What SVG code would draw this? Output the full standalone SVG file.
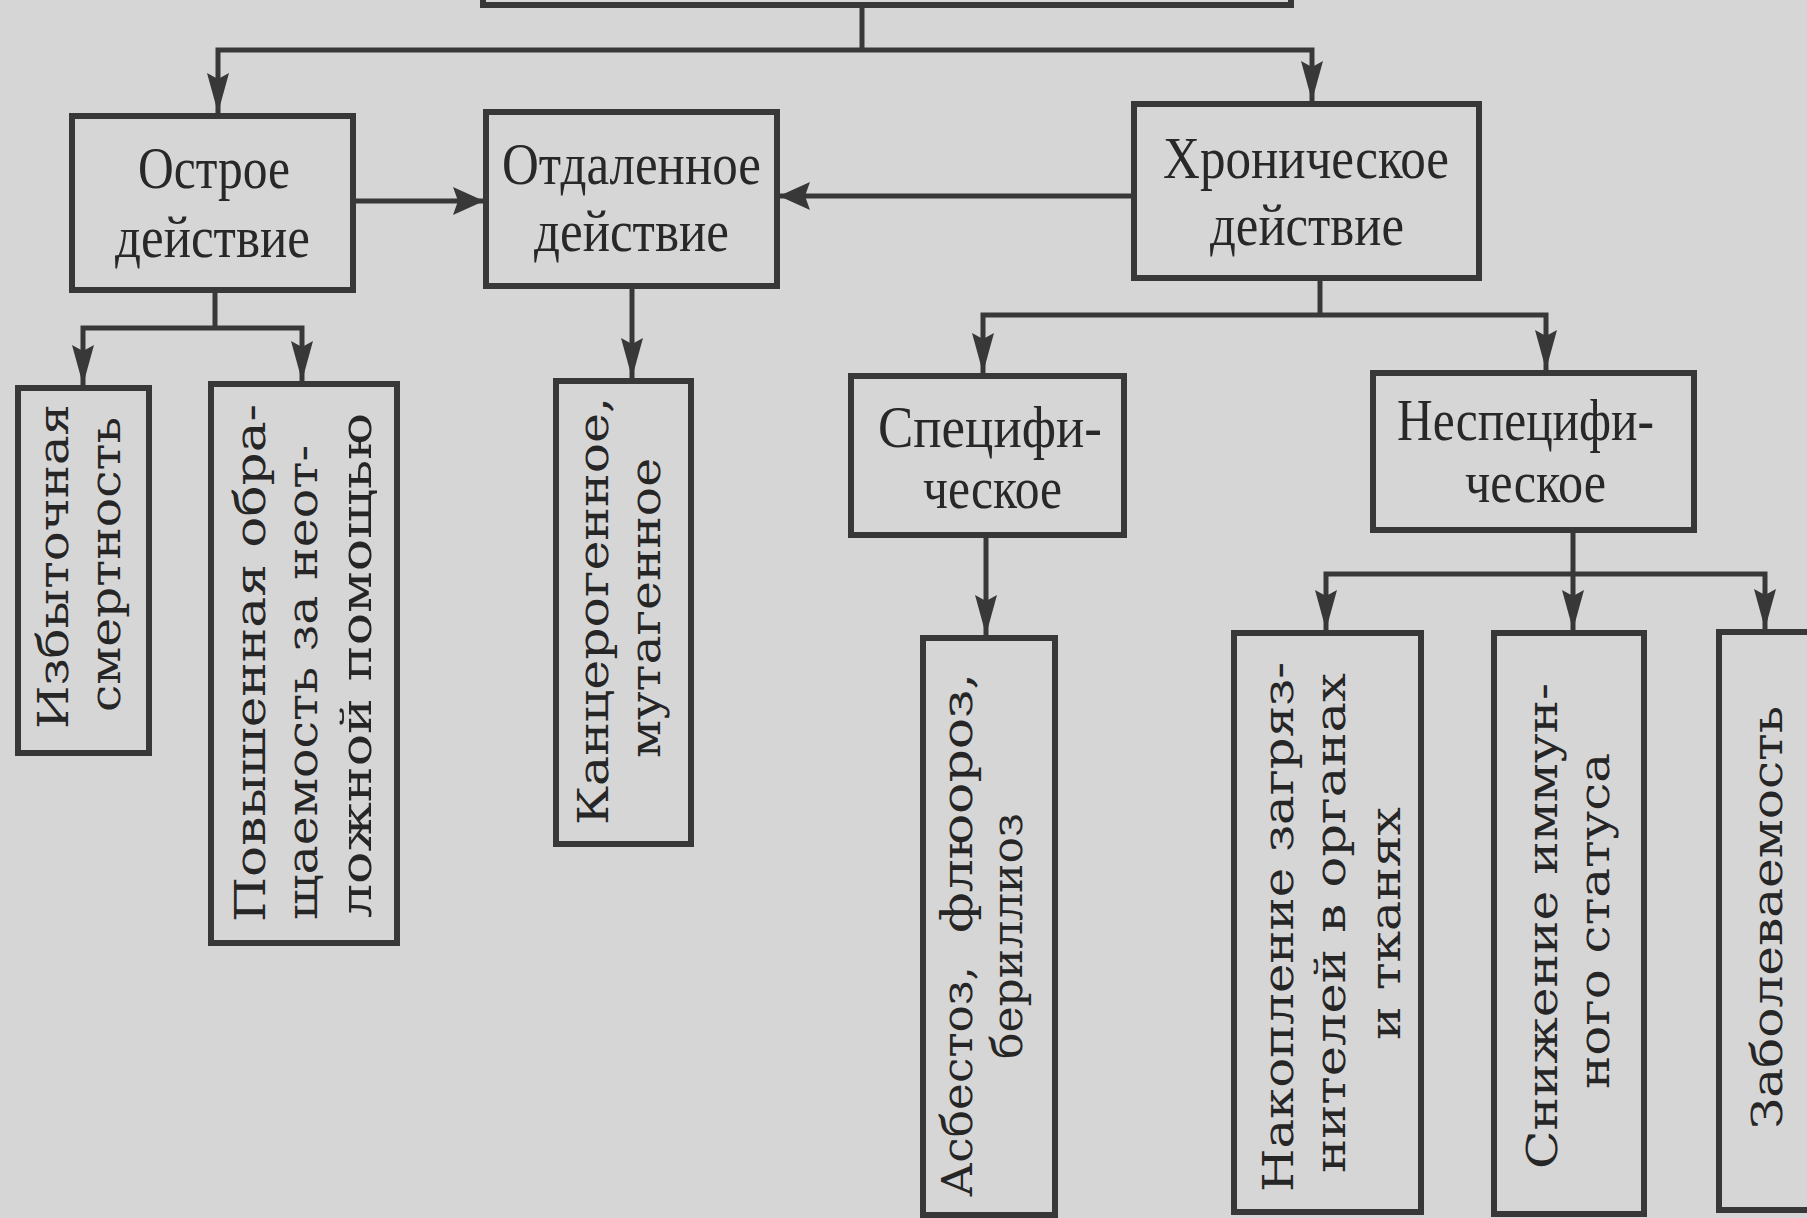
<svg xmlns="http://www.w3.org/2000/svg" width="1807" height="1218" viewBox="0 0 1807 1218">
<style>
.bg{fill:#d6d6d6}
.box{fill:#d6d6d6;stroke:#383838;stroke-width:6}
.con{fill:none;stroke:#383838;stroke-width:5}
.h{font-family:"Liberation Serif","Times New Roman",serif;font-size:59px;fill:#282828}
.v{font-family:"DejaVu Serif","Liberation Serif",serif;font-size:43px;fill:#262626}
</style>
<defs>
<marker id="av" markerUnits="userSpaceOnUse" markerWidth="42" markerHeight="24" refX="40" refY="11" orient="auto">
<path d="M0,0 L40,11 L0,22 L6,11 Z" fill="#383838"/>
</marker>
<marker id="ah" markerUnits="userSpaceOnUse" markerWidth="34" markerHeight="30" refX="31" refY="14" orient="auto">
<path d="M0,0 L31,14 L0,28 L5,14 Z" fill="#383838"/>
</marker>
</defs>
<rect class="bg" x="0" y="0" width="1807" height="1218"/>

<g id="connectors">
<path class="con" d="M862,5 V50"/>
<path class="con" d="M862,50 H218 V113" marker-end="url(#av)"/>
<path class="con" d="M862,50 H1312 V101" marker-end="url(#av)"/>
<path class="con" d="M353,201 H484" marker-end="url(#ah)"/>
<path class="con" d="M1134,196 H779" marker-end="url(#ah)"/>
<path class="con" d="M215,290 V328"/>
<path class="con" d="M215,328 H83 V385" marker-end="url(#av)"/>
<path class="con" d="M215,328 H302 V381" marker-end="url(#av)"/>
<path class="con" d="M632,286 V378" marker-end="url(#av)"/>
<path class="con" d="M1320,278 V315"/>
<path class="con" d="M1320,315 H983 V373" marker-end="url(#av)"/>
<path class="con" d="M1320,315 H1546 V370" marker-end="url(#av)"/>
<path class="con" d="M986,535 V635" marker-end="url(#av)"/>
<path class="con" d="M1573,530 V630" marker-end="url(#av)"/>
<path class="con" d="M1573,574 H1326 V630" marker-end="url(#av)"/>
<path class="con" d="M1573,574 H1765 V629" marker-end="url(#av)"/>
</g>

<g id="node-top">
<rect class="box" x="483" y="-40" width="808" height="45"/>
</g>

<g id="node-ostroe">
<rect class="box" x="72" y="116" width="281" height="174"/>
<text class="h" x="138" y="188" textLength="152" lengthAdjust="spacingAndGlyphs">Острое</text>
<text class="h" x="115" y="257" textLength="195" lengthAdjust="spacingAndGlyphs">действие</text>
</g>

<g id="node-otdal">
<rect class="box" x="486" y="112" width="291" height="174"/>
<text class="h" x="502" y="184" textLength="259" lengthAdjust="spacingAndGlyphs">Отдаленное</text>
<text class="h" x="534" y="251" textLength="195" lengthAdjust="spacingAndGlyphs">действие</text>
</g>

<g id="node-khron">
<rect class="box" x="1134" y="104" width="345" height="174"/>
<text class="h" x="1163" y="178" textLength="286" lengthAdjust="spacingAndGlyphs">Хроническое</text>
<text class="h" x="1210" y="245" textLength="194" lengthAdjust="spacingAndGlyphs">действие</text>
</g>

<g id="node-izb">
<rect class="box" x="18" y="388" width="131" height="365"/>
<text class="v" transform="translate(68,729) rotate(-90)" textLength="325" lengthAdjust="spacingAndGlyphs">Избыточная</text>
<text class="v" transform="translate(120,712) rotate(-90)" textLength="295" lengthAdjust="spacingAndGlyphs">смертность</text>
</g>

<g id="node-pov">
<rect class="box" x="211" y="384" width="186" height="559"/>
<text class="v" transform="translate(265,922) rotate(-90)" textLength="518" lengthAdjust="spacingAndGlyphs">Повышенная обра-</text>
<text class="v" transform="translate(317,920) rotate(-90)" textLength="475" lengthAdjust="spacingAndGlyphs">щаемость за неот-</text>
<text class="v" transform="translate(371,918) rotate(-90)" textLength="505" lengthAdjust="spacingAndGlyphs">ложной помощью</text>
</g>

<g id="node-kanc">
<rect class="box" x="556" y="381" width="135" height="463"/>
<text class="v" transform="translate(608,825) rotate(-90)" textLength="428" lengthAdjust="spacingAndGlyphs">Канцерогенное,</text>
<text class="v" transform="translate(660,758) rotate(-90)" textLength="300" lengthAdjust="spacingAndGlyphs">мутагенное</text>
</g>

<g id="node-spec">
<rect class="box" x="851" y="376" width="273" height="159"/>
<text class="h" x="878" y="447" textLength="224" lengthAdjust="spacingAndGlyphs">Специфи-</text>
<text class="h" x="923" y="508" textLength="139" lengthAdjust="spacingAndGlyphs">ческое</text>
</g>

<g id="node-nespec">
<rect class="box" x="1373" y="373" width="321" height="157"/>
<text class="h" x="1397" y="440" textLength="257" lengthAdjust="spacingAndGlyphs">Неспецифи-</text>
<text class="h" x="1465" y="502" textLength="141" lengthAdjust="spacingAndGlyphs">ческое</text>
</g>

<g id="node-asb">
<rect class="box" x="923" y="638" width="132" height="577"/>
<text class="v" transform="translate(972,1197) rotate(-90)" textLength="231" lengthAdjust="spacingAndGlyphs">Асбестоз,</text>
<text class="v" transform="translate(972,933) rotate(-90)" textLength="260" lengthAdjust="spacingAndGlyphs">флюороз,</text>
<text class="v" transform="translate(1022,1059) rotate(-90)" textLength="246" lengthAdjust="spacingAndGlyphs">бериллиоз</text>
</g>

<g id="node-nakop">
<rect class="box" x="1234" y="633" width="187" height="579"/>
<text class="v" transform="translate(1293,1192) rotate(-90)" textLength="530" lengthAdjust="spacingAndGlyphs">Накопление загряз-</text>
<text class="v" transform="translate(1345,1173) rotate(-90)" textLength="500" lengthAdjust="spacingAndGlyphs">нителей в органах</text>
<text class="v" transform="translate(1400,1040) rotate(-90)" textLength="233" lengthAdjust="spacingAndGlyphs">и тканях</text>
</g>

<g id="node-snizh">
<rect class="box" x="1494" y="633" width="150" height="581"/>
<text class="v" transform="translate(1557,1169) rotate(-90)" textLength="486" lengthAdjust="spacingAndGlyphs">Снижение иммун-</text>
<text class="v" transform="translate(1609,1089) rotate(-90)" textLength="336" lengthAdjust="spacingAndGlyphs">ного статуса</text>
</g>

<g id="node-zabol">
<rect class="box" x="1719" y="632" width="95" height="578"/>
<text class="v" transform="translate(1782,1129) rotate(-90)" textLength="423" lengthAdjust="spacingAndGlyphs">Заболеваемость</text>
</g>
</svg>
